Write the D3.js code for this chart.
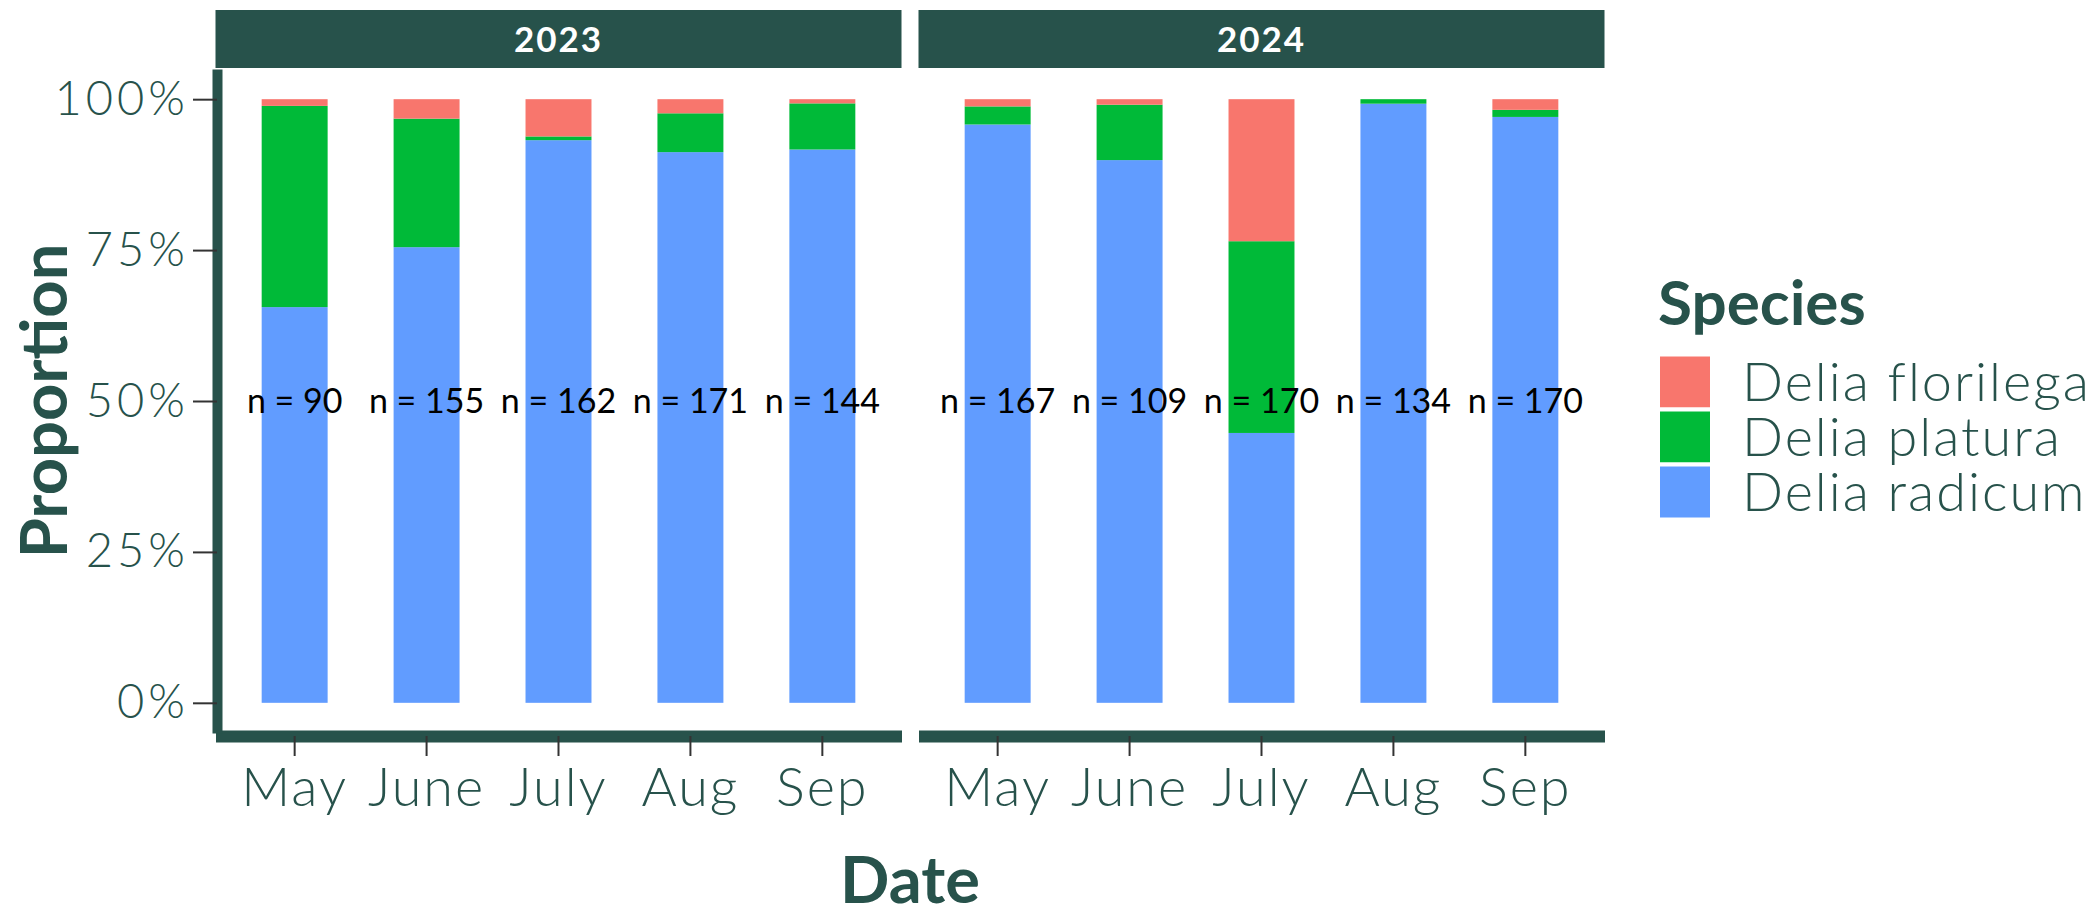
<!DOCTYPE html>
<html>
<head>
<meta charset="utf-8">
<script src="https://cdn.jsdelivr.net/npm/d3@7"></script>
<style>
  body { margin: 0; background: #fff; }
  svg { display: block; }
  text { font-family: Lato, "Open Sans", sans-serif; }
</style>
</head>
<body>
<svg id="chart" width="2099" height="910"></svg>
<script>
// data (insect counts per month)
const years = ["2023", "2024"];
const months = ["May", "June", "July", "Aug", "Sep"];
const species = ["Delia florilega", "Delia platura", "Delia radicum"];
const speciesColors = ["#F8766D", "#00BA38", "#619CFF"];

const radicum2023 = [59, 117, 151, 156, 132];
const platura2023 = [30, 33, 1, 11, 11];
const florilega2023 = [1, 5, 10, 4, 1];

const radicum2024 = [160, 98, 76, 133, 165];
const platura2024 = [5, 10, 54, 1, 2];
const florilega2024 = [2, 1, 40, 0, 3];

const yTicks = [0, 0.25, 0.5, 0.75, 1];

const teal = "#27524B";
const tickCol = "#333333";

function buildRows(rad, pla, flo) {
  return months.map(function(m, i) {
    return { month: m, "Delia radicum": rad[i], "Delia platura": pla[i], "Delia florilega": flo[i] };
  });
}
const panels = [
  { year: years[0], rows: buildRows(radicum2023, platura2023, florilega2023) },
  { year: years[1], rows: buildRows(radicum2024, platura2024, florilega2024) }
];

const svg = d3.select("#chart");

// layout
const panelTop = 69, panelBottom = 733;
const panelW = 686;
const panelLefts = [215.5, 918.5];
const stripTop = 10;

const y = d3.scaleLinear().domain([-0.05, 1.05]).range([panelBottom, panelTop]);
const color = d3.scaleOrdinal().domain(species).range(speciesColors);

const stack = d3.stack()
  .keys(["Delia radicum", "Delia platura", "Delia florilega"])
  .offset(d3.stackOffsetExpand);

panels.forEach(function(p, pi) {
  const left = panelLefts[pi];
  const x = d3.scaleBand().domain(months).range([0, panelW]).paddingInner(0.5).paddingOuter(0.35);
  const g = svg.append("g").attr("transform", `translate(${left},0)`);

  // strip
  g.append("rect")
    .attr("x", 0).attr("y", stripTop)
    .attr("width", panelW).attr("height", panelTop - stripTop - 1)
    .attr("fill", teal);
  g.append("text")
    .attr("x", panelW / 2).attr("y", (stripTop + panelTop) / 2 + 12)
    .attr("text-anchor", "middle")
    .attr("fill", "#fff").attr("font-weight", 700).attr("font-size", 35)
    .attr("letter-spacing", 2)
    .text(p.year);

  // stacked bars
  const series = stack(p.rows);
  g.selectAll("g.layer").data(series).join("g")
    .attr("class", "layer")
    .attr("fill", function(d) { return color(d.key); })
    .selectAll("rect").data(function(d) { return d; }).join("rect")
    .attr("x", function(d) { return x(d.data.month); })
    .attr("width", x.bandwidth())
    .attr("y", function(d) { return y(d[1]); })
    .attr("height", function(d) { return y(d[0]) - y(d[1]); });

  // n labels
  g.selectAll("text.n").data(p.rows).join("text")
    .attr("class", "n")
    .attr("x", function(d) { return x(d.month) + x.bandwidth() / 2; })
    .attr("y", y(0.5) + 12)
    .attr("text-anchor", "middle")
    .attr("font-family", "'Liberation Sans', Arial, sans-serif")
    .attr("font-size", 34)
    .attr("fill", "#000")
    .text(function(d) { return "n = " + (d["Delia radicum"] + d["Delia platura"] + d["Delia florilega"]); });

  // x axis
  const xAxis = g.append("g")
    .attr("transform", "translate(0,736)")
    .call(d3.axisBottom(x).tickSize(20).tickSizeOuter(0).tickPadding(12));
  xAxis.select(".domain").attr("stroke", teal).attr("stroke-width", 12);
  xAxis.selectAll(".tick line").attr("stroke", tickCol).attr("stroke-width", 2);
  xAxis.selectAll(".tick text")
    .attr("font-family", "Lato, sans-serif")
    .attr("font-size", 54).attr("font-weight", 300)
    .attr("letter-spacing", 2)
    .attr("fill", teal);
});

// y axis (left panel only)
const yAxis = svg.append("g")
  .attr("transform", "translate(217,0)")
  .call(d3.axisLeft(y).tickValues(yTicks).tickFormat(d3.format(".0%")).tickSize(24).tickSizeOuter(0).tickPadding(4));
yAxis.select(".domain").attr("stroke", teal).attr("stroke-width", 10);
yAxis.selectAll(".tick line").attr("stroke", tickCol).attr("stroke-width", 2);
yAxis.selectAll(".tick text")
  .attr("font-family", "Lato, sans-serif")
  .attr("font-size", 47).attr("font-weight", 300)
  .attr("letter-spacing", 4)
  .attr("fill", teal);

// axis titles
svg.append("text")
  .attr("transform", `translate(67,${(panelTop + panelBottom) / 2}) rotate(-90)`)
  .attr("text-anchor", "middle")
  .attr("font-size", 65).attr("font-weight", 700).attr("fill", teal)
  .text("Proportion");
svg.append("text")
  .attr("x", (panelLefts[0] + panelLefts[1] + panelW) / 2).attr("y", 903)
  .attr("text-anchor", "middle")
  .attr("font-size", 65).attr("font-weight", 700).attr("fill", teal)
  .text("Date");

// legend
const legend = svg.append("g").attr("transform", "translate(1658,0)");
legend.append("text")
  .attr("x", 0).attr("y", 325)
  .attr("font-size", 62).attr("font-weight", 700).attr("fill", teal)
  .text("Species");
const keyH = 55;
legend.selectAll("rect.key").data(species).join("rect")
  .attr("class", "key")
  .attr("x", 0).attr("y", function(d, i) { return 354.5 + i * keyH; })
  .attr("width", 54).attr("height", keyH)
  .attr("fill", function(d) { return color(d); })
  .attr("stroke", "#fff").attr("stroke-width", 4);
legend.selectAll("text.lab").data(species).join("text")
  .attr("class", "lab")
  .attr("x", 84).attr("y", function(d, i) { return 354.5 + i * keyH + keyH / 2 + 19; })
  .attr("font-size", 54).attr("font-weight", 300).attr("fill", teal)
  .attr("letter-spacing", 2)
  .text(function(d) { return d; });
</script>
</body>
</html>
